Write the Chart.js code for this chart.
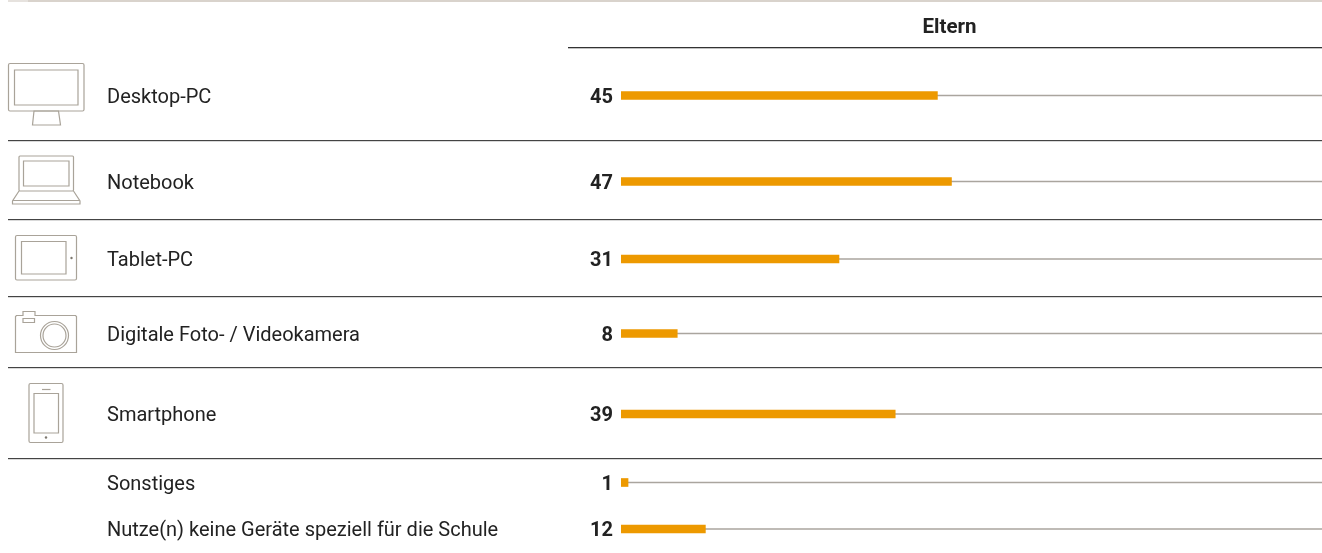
<!DOCTYPE html>
<html lang="de">
<head>
<meta charset="utf-8">
<title>Eltern</title>
<script src="https://cdn.jsdelivr.net/npm/chart.js@4/dist/chart.umd.min.js"></script>
<style>
  html, body { margin: 0; padding: 0; background: #fff; overflow: hidden; }
  #wrap { position: relative; width: 1322px; height: 553px; }
</style>
</head>
<body>
<div id="wrap"><canvas id="chart"></canvas></div>
<script>
// data
const categories = ["Desktop-PC", "Notebook", "Tablet-PC", "Digitale Foto- / Videokamera", "Smartphone", "Sonstiges", "Nutze(n) keine Geräte speziell für die Schule"];
const elternValues = [45, 47, 31, 8, 39, 1, 12];
const seriesName = "Eltern";
const trackValues = [100, 100, 100, 100, 100, 100, 100];

// layout (y axis runs in pixels of the page, the rows are not evenly spaced)
const rowCenters = [95.5, 181.5, 259, 333.5, 414, 482.5, 529];
const separators = [140, 219, 296, 367, 458];
const labelNudge = 2; // text sits slightly under the bar centre

const FONT = 'Roboto, sans-serif';
const TEXT = "#222222";
const ICON = "#a9a399";

function box(ctx, x1, y1, x2, y2, r) {
  ctx.beginPath();
  ctx.roundRect(x1, y1, x2 - x1, y2 - y1, r || 0);
  ctx.stroke();
}
function dot(ctx, x, y) {
  ctx.beginPath();
  ctx.arc(x, y, 1.2, 0, Math.PI * 2);
  ctx.fill();
}

// little device pictures left of the labels
function drawIcons(ctx) {
  ctx.save();
  ctx.strokeStyle = ICON;
  ctx.fillStyle = "#7d786f";
  ctx.lineWidth = 1.2;
  // desktop
  box(ctx, 8.5, 63.5, 84, 111, 1.5);
  box(ctx, 14.5, 70, 78, 105);
  ctx.beginPath();
  ctx.moveTo(34, 111); ctx.lineTo(32.5, 125); ctx.lineTo(60.5, 125); ctx.lineTo(58.5, 111);
  ctx.closePath(); ctx.stroke();
  // notebook
  box(ctx, 19, 156, 73.5, 191, 1);
  box(ctx, 23.5, 161, 69, 186);
  ctx.beginPath();
  ctx.moveTo(19, 191); ctx.lineTo(12.5, 201); ctx.lineTo(12.5, 204); ctx.lineTo(80, 204); ctx.lineTo(80, 201); ctx.lineTo(73.5, 191);
  ctx.moveTo(12.5, 200.5); ctx.lineTo(80, 200.5);
  ctx.stroke();
  // tablet
  box(ctx, 15.5, 235.5, 76.5, 280, 1.5);
  box(ctx, 21.5, 241.5, 66, 274);
  dot(ctx, 71.5, 258);
  // camera
  ctx.beginPath();
  ctx.moveTo(16.5, 315.5); ctx.lineTo(23, 315.5); ctx.lineTo(23, 311.5); ctx.lineTo(35, 311.5); ctx.lineTo(35, 315.5); ctx.lineTo(75.5, 315.5);
  ctx.lineTo(76.5, 316.5); ctx.lineTo(76.5, 352.5); ctx.lineTo(15.5, 352.5); ctx.lineTo(15.5, 316.5);
  ctx.closePath(); ctx.stroke();
  box(ctx, 23, 318.5, 34.5, 322.5);
  ctx.beginPath(); ctx.arc(54.5, 335.5, 14, 0, Math.PI * 2); ctx.stroke();
  ctx.beginPath(); ctx.arc(54.5, 335.5, 11.5, 0, Math.PI * 2); ctx.stroke();
  // smartphone
  box(ctx, 29, 383.5, 63, 442.5, 1.5);
  box(ctx, 34, 393.5, 58.5, 433);
  ctx.beginPath(); ctx.moveTo(42, 389.5); ctx.lineTo(50.5, 389.5); ctx.stroke();
  dot(ctx, 46, 437.5);
  ctx.restore();
}

const decor = {
  id: "decor",
  beforeDatasetsDraw(chart) {
    const { ctx, width, scales: { y } } = chart;
    ctx.save();
    // top hairline
    ctx.fillStyle = "#d9d3cc";
    ctx.fillRect(8, y.getPixelForValue(0), width - 8, 2);
    ctx.fillStyle = "#e6e2de";
    ctx.fillRect(8, y.getPixelForValue(0), 20, 2);
    // header rule
    ctx.fillStyle = "#333333";
    ctx.fillRect(568, y.getPixelForValue(47), width - 568, 1.3);
    // row separators
    ctx.fillStyle = "#444444";
    separators.forEach(v => ctx.fillRect(8, y.getPixelForValue(v), width - 8, 1.2));
    ctx.restore();
    drawIcons(ctx);
  },
  afterDatasetsDraw(chart) {
    const { ctx, scales: { y } } = chart;
    const meta = chart.getDatasetMeta(1);
    ctx.save();
    ctx.fillStyle = TEXT;
    ctx.textBaseline = "middle";
    // header
    ctx.font = "700 20.5px " + FONT;
    ctx.textAlign = "center";
    ctx.fillText(seriesName, 949.5, y.getPixelForValue(28));
    // values
    ctx.font = "700 20px " + FONT;
    ctx.textAlign = "right";
    elternValues.forEach((v, i) => {
      ctx.fillText(String(v), meta.data[i].base - 8, meta.data[i].y + labelNudge);
    });
    ctx.restore();
  }
};

new Chart(document.getElementById("chart"), {
  type: "bar",
  data: {
    datasets: [
      {
        label: "track",
        data: trackValues.map((v, i) => ({ x: v, y: rowCenters[i] })),
        backgroundColor: "#aaa59e",
        barThickness: 1,
        grouped: false,
        order: 2
      },
      {
        label: seriesName,
        data: elternValues.map((v, i) => ({ x: v, y: rowCenters[i] })),
        backgroundColor: "#ed9900",
        barThickness: 8,
        grouped: false,
        order: 1
      }
    ]
  },
  options: {
    indexAxis: "y",
    responsive: true,
    maintainAspectRatio: false,
    animation: false,
    layout: { padding: { left: 107, top: 0, right: 0, bottom: 0 } },
    plugins: { legend: { display: false }, tooltip: { enabled: false } },
    scales: {
      x: {
        type: "linear",
        min: 0,
        max: 99.7, // scale runs a bit past the page edge, tracks get cut there
        display: false
      },
      y: {
        type: "linear",
        reverse: true,
        min: 0,
        max: 553,
        offset: false,
        afterBuildTicks(scale) {
          scale.ticks = rowCenters.map(v => ({ value: v + labelNudge }));
        },
        afterFit(scale) {
          scale.width = 514;
          // labels sit well inside the plot, no need for the extra room chart.js keeps
          scale.paddingTop = 0;
          scale.paddingBottom = 0;
        },
        grid: { display: false },
        border: { display: false },
        ticks: {
          autoSkip: false,
          crossAlign: "far",
          padding: 0,
          color: TEXT,
          font: { family: FONT, size: 20 },
          callback(value, index) {
            return categories[index];
          }
        }
      }
    }
  },
  plugins: [decor]
});
</script>
</body>
</html>
